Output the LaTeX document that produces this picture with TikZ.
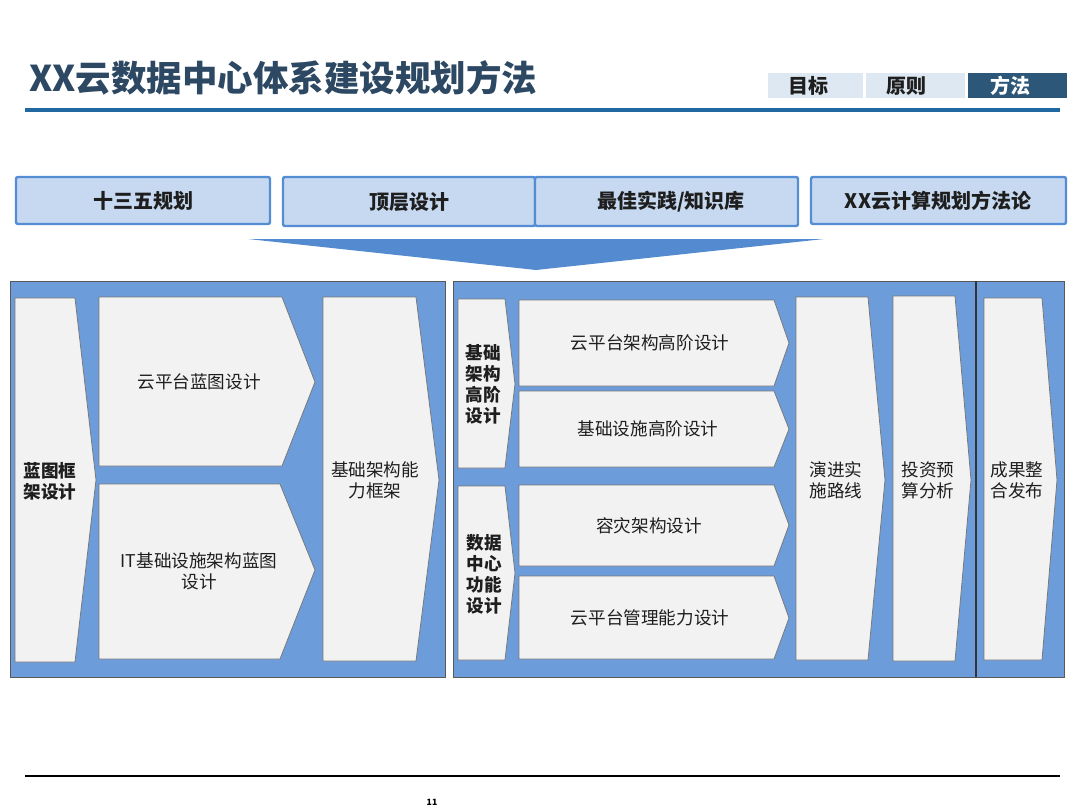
\documentclass[tikz,border=0pt]{standalone}
\usepackage{fontspec}
\setmainfont{Noto Sans CJK SC}
\definecolor{titlec}{RGB}{44,72,98}
\definecolor{lineblue}{RGB}{31,105,160}
\definecolor{tablight}{RGB}{221,232,243}
\definecolor{tabdark}{RGB}{44,87,120}
\definecolor{topfill}{RGB}{198,217,240}
\definecolor{topdraw}{RGB}{84,141,212}
\definecolor{funnel}{RGB}{84,138,207}
\definecolor{panelfill}{RGB}{108,156,218}
\definecolor{chevfill}{RGB}{242,242,242}
\definecolor{chevdraw}{RGB}{120,120,120}
\definecolor{txt}{RGB}{30,30,30}
\tikzset{
  topbox/.style={draw=topdraw, fill=topfill, line width=1.8pt, rounded corners=1.5pt},
  toptxt/.style={font=\bfseries\fontsize{15}{18}\selectfont, text=txt},
  tabtxt/.style={font=\bfseries\fontsize{15}{18}\selectfont},
  panel/.style={draw=black!65, fill=panelfill, line width=0.6pt},
  chev/.style={draw=chevdraw, fill=chevfill, line width=0.6pt},
  ctxt/.style={font=\fontsize{13.2}{16}\selectfont, text=txt, align=center},
  btxt/.style={font=\bfseries\fontsize{13.2}{15.8}\selectfont, text=txt, align=center},
}
\begin{document}
\begin{tikzpicture}[x=0.75pt,y=-0.75pt]
\useasboundingbox (0,0) rectangle (1080,810);
\fill[white] (0,0) rectangle (1080,810);

% title
\node[anchor=west, inner sep=0, text=titlec, font=\bfseries\fontsize{26.6}{30}\selectfont] (title) at (29,78) {XX云数据中心体系建设规划方法};
\fill[lineblue] (25,107.5) rectangle (1060,111.5);

% tabs
\fill[tablight] (768,73) rectangle (863,97.5);
\fill[tablight] (866,73) rectangle (965,97.5);
\fill[tabdark] (968,73) rectangle (1067,97.5);
\node[tabtxt, text=txt] (tab1) at (808,86) {目标};
\node[tabtxt, text=txt] (tab2) at (906,86) {原则};
\node[tabtxt, text=white] (tab3) at (1010,86) {方法};

% top row
\draw[topbox] (16,177) rectangle (270,224);
\draw[topbox] (283,177) rectangle (535,226);
\draw[topbox] (535,177) rectangle (798,226);
\draw[topbox] (811,177) rectangle (1066,224);
\node[toptxt] (t1) at (143,201) {十三五规划};
\node[toptxt] (t2) at (409,202) {顶层设计};
\node[toptxt] (t3) at (671,202) {最佳实践/知识库};
\node[toptxt] (t4) at (938,201) {XX云计算规划方法论};

% funnel
\fill[funnel] (248,239) -- (824,239) -- (536,270) -- cycle;

% left panel
\draw[panel] (10,281) rectangle (445,677);
\draw[chev] (15,298) -- (75,298) -- (96,480) -- (75,662) -- (15,662) -- cycle;
\node[btxt] (l1) at (50,481) {蓝图框\\架设计};
\draw[chev] (99,297) -- (282,297) -- (315,382) -- (282,466) -- (99,466) -- cycle;
\node[ctxt] (l2) at (199,382) {云平台蓝图设计};
\draw[chev] (99,484) -- (280,484) -- (315,570) -- (280,659) -- (99,659) -- cycle;
\node[ctxt] (l3) at (199,571) {IT基础设施架构蓝图\\设计};
\draw[chev] (323,297) -- (416,297) -- (439,480) -- (416,661) -- (323,661) -- cycle;
\node[ctxt] (l4) at (375,480) {基础架构能\\力框架};

% right panel
\draw[panel] (453,281) rectangle (1064,677);
\draw[black!80, line width=0.8pt] (976,281) -- (976,677);
\draw[chev] (458,299) -- (505,299) -- (515,384) -- (505,468) -- (458,468) -- cycle;
\node[btxt] (r1) at (483,384) {基础\\架构\\高阶\\设计};
\draw[chev] (458,486) -- (505,486) -- (515,573) -- (505,660) -- (458,660) -- cycle;
\node[btxt] (r2) at (484,574) {数据\\中心\\功能\\设计};
\draw[chev] (519,300) -- (774,300) -- (789,343) -- (774,386) -- (519,386) -- cycle;
\node[ctxt] (r3) at (650,343) {云平台架构高阶设计};
\draw[chev] (519,391) -- (774,391) -- (789,429) -- (774,467) -- (519,467) -- cycle;
\node[ctxt] (r4) at (648,429) {基础设施高阶设计};
\draw[chev] (519,485) -- (774,485) -- (789,525) -- (774,566) -- (519,566) -- cycle;
\node[ctxt] (r5) at (649,526) {容灾架构设计};
\draw[chev] (519,576) -- (774,576) -- (789,618) -- (774,659) -- (519,659) -- cycle;
\node[ctxt] (r6) at (650,618) {云平台管理能力设计};
\draw[chev] (796,297) -- (868,297) -- (885,480) -- (868,660) -- (796,660) -- cycle;
\node[ctxt] (r7) at (836,480) {演进实\\施路线};
\draw[chev] (893,296) -- (955,296) -- (971,480) -- (955,661) -- (893,661) -- cycle;
\node[ctxt] (r8) at (928,480) {投资预\\算分析};
\draw[chev] (984,298) -- (1042,298) -- (1057,480) -- (1042,660) -- (984,660) -- cycle;
\node[ctxt] (r9) at (1017,480) {成果整\\合发布};

% footer
\draw[black, line width=2.2pt] (25,776) -- (1060,776);
\node[font=\bfseries\fontsize{6.5}{8}\selectfont] (page) at (432,802) {11};
\end{tikzpicture}
\end{document}
